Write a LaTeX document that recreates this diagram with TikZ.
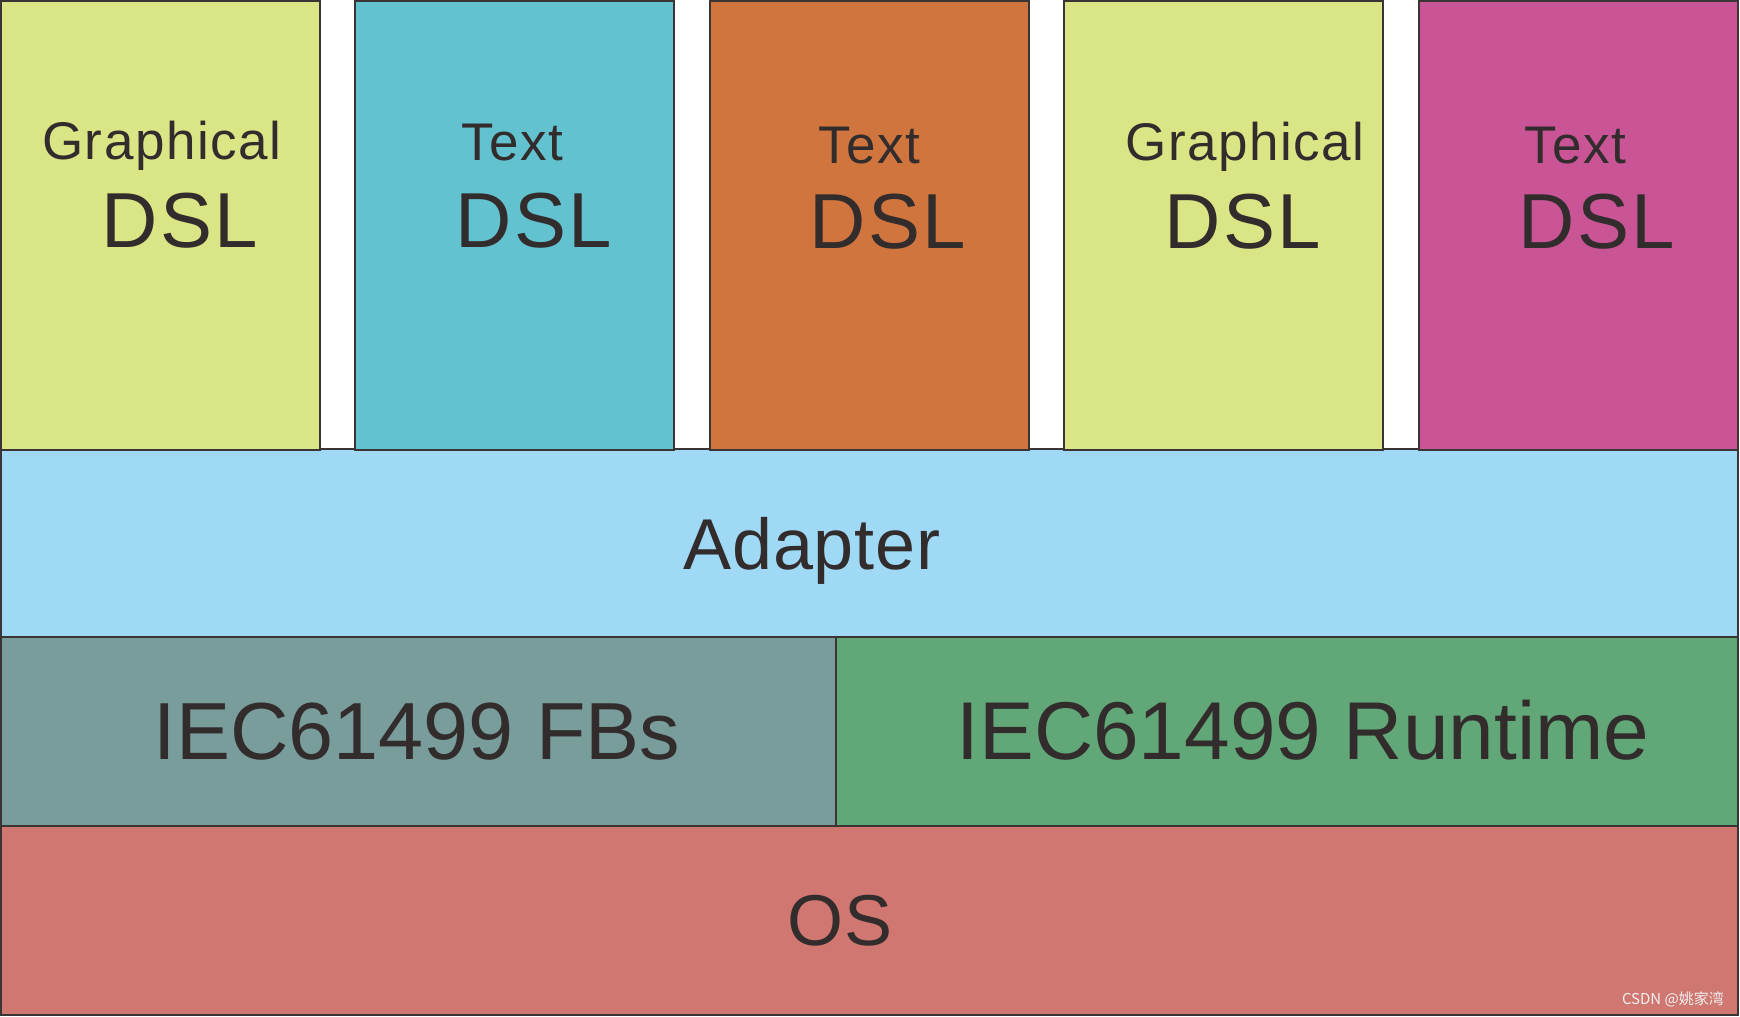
\documentclass[tikz,border=0pt]{standalone}
\usepackage{fontspec}
\setmainfont{Liberation Sans}
\newfontfamily\cjkfont{Noto Sans CJK SC}
\definecolor{graphfill}{RGB}{218,230,133}
\definecolor{textblue}{RGB}{99,194,208}
\definecolor{textorange}{RGB}{208,117,62}
\definecolor{textpink}{RGB}{201,85,151}
\definecolor{adapterfill}{RGB}{160,217,245}
\definecolor{fbfill}{RGB}{120,157,154}
\definecolor{runtimefill}{RGB}{97,167,119}
\definecolor{osfill}{RGB}{207,119,112}
\definecolor{edge}{RGB}{58,52,52}
\definecolor{ink}{RGB}{50,44,44}
\tikzset{layer/.style={draw=edge,line width=2pt}}
\tikzset{lbl/.style={text=ink,anchor=base,inner sep=0pt}}
\tikzset{kindtext/.style={lbl,font=\fontsize{53}{60}\selectfont\addfontfeatures{LetterSpace=3}}}
\tikzset{dsltext/.style={lbl,font=\fontsize{78}{86}\selectfont\addfontfeatures{LetterSpace=3}}}
\tikzset{stacktext/.style={lbl,font=\fontsize{72}{80}\selectfont\addfontfeatures{LetterSpace=1}}}

\begin{document}
\begin{tikzpicture}[x=1pt, y=1pt]
	\useasboundingbox (0,0) rectangle (1740,1017);
	\draw [layer, fill=adapterfill] (1,568) rectangle (1738,380);
	\draw [layer, fill=fbfill] (1,380) rectangle (836,191);
	\draw [layer, fill=runtimefill] (836,380) rectangle (1738,191);
	\draw [layer, fill=osfill] (1,191) rectangle (1738,2);
	\foreach \x/\c in {1/graphfill, 355/textblue, 710/textorange, 1064/graphfill, 1419/textpink} \draw [layer, fill=\c] (\x,1016) rectangle ++(319,-449);
	
	\node [kindtext] (kindA) at (162,857) {Graphical};
	\node [dsltext] (dslA) at (180,769) {DSL};
	\node [kindtext] (kindB) at (512,856) {Text};
	\node [dsltext] (dslB) at (534,769) {DSL};
	\node [kindtext] (kindC) at (869,853) {Text};
	\node [dsltext] (dslC) at (888,768) {DSL};
	\node [kindtext] (kindD) at (1245,856) {Graphical};
	\node [dsltext] (dslD) at (1243,768) {DSL};
	\node [kindtext] (kindE) at (1575,853) {Text};
	\node [dsltext] (dslE) at (1597,768) {DSL};
	
	\node [stacktext] (adapter) at (812,447) {Adapter};
	\node [stacktext, font=\fontsize{81}{90}\selectfont] (fbs) at (417,257) {IEC61499 FBs};
	\node [stacktext, font=\fontsize{82}{90}\selectfont] (runtime) at (1303,257) {IEC61499 Runtime};
	\node [stacktext] (os) at (840,71) {OS};
	
	\node [anchor=base east, inner sep=0pt, text=white!88!gray, font=\cjkfont\fontsize{15}{17}\selectfont] (mark) at (1724,12) {CSDN @姚家湾};
\end{tikzpicture}
\end{document}
